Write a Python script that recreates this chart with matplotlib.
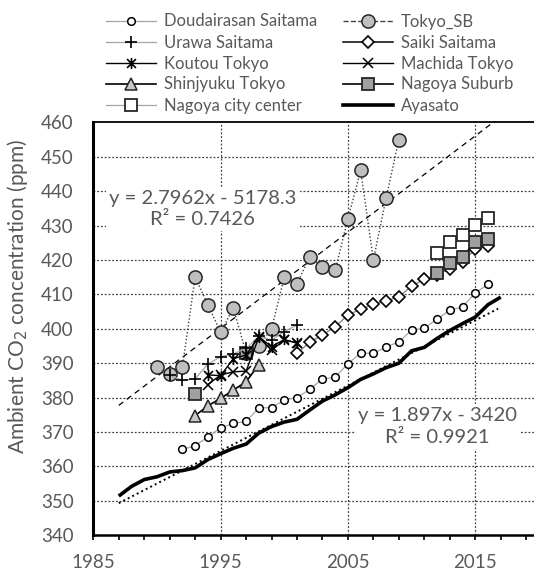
import numpy as np
import matplotlib
matplotlib.use("Agg")
import matplotlib.pyplot as plt
from matplotlib.path import Path
from matplotlib.lines import Line2D

plt.rcParams['font.family'] = ['Lato', 'DejaVu Sans']

# ---------------- data ----------------
doudai_years = list(range(1992, 2017))
doudai_vals = [365.0, 366.0, 368.6, 371.2, 372.5, 373.1, 377.0, 377.1, 379.3, 380.0,
               382.4, 385.4, 385.9, 389.9, 392.9, 392.9, 394.7, 396.2, 399.6, 400.2,
               402.8, 405.4, 406.4, 410.4, 412.9]

tokyo_sb_years = list(range(1990, 2010))
tokyo_sb_vals = [389, 387, 389, 415, 407, 399, 406, 393, 395, 400,
                 415, 413, 421, 418, 417, 432, 446, 420, 438, 455]

urawa_years = list(range(1991, 2002))
urawa_vals = [386.5, 385.0, 385.5, 389.7, 391.9, 392.7, 394.3, 397.8, 396.7, 399.2, 401.1]

saiki_years = list(range(2001, 2017))
saiki_vals = [392.9, 396.1, 398.2, 400.6, 404.0, 405.7, 407.1, 408.1, 409.3, 412.4,
              414.4, 415.5, 417.5, 419.5, 423.1, 424.0]

koutou_years = list(range(1994, 2002))
koutou_vals = [386.6, 386.4, 391.3, 392.4, 397.7, 394.8, 396.9, 395.8]

machida_years = list(range(1994, 2002))
machida_vals = [383.8, 386.6, 387.5, 387.7, 397.5, 393.8, 396.7, 396.0]

shinjyuku_years = list(range(1993, 1999))
shinjyuku_vals = [374.8, 377.6, 379.8, 382.2, 384.6, 389.6]

# early isolated points, then the connected 2012-2016 run
nagoya_sub_years = [1993, 1997, 2012, 2013, 2014, 2015, 2016]
nagoya_sub_vals = [381.2, 393.0, 416.3, 419.0, 420.9, 425.1, 426.1]

nagoya_city_years = [2012, 2013, 2014, 2015, 2016]
nagoya_city_vals = [422.1, 425.1, 427.2, 430.2, 432.1]

ayasato_years = list(range(1987, 2018))
ayasato_vals = [351.4, 354.2, 356.2, 357.0, 358.4, 358.8, 359.6, 362.0, 363.7, 365.3,
                366.5, 369.7, 371.6, 372.9, 373.7, 376.4, 379.0, 380.8, 382.9, 385.3,
                386.9, 388.7, 390.0, 393.6, 394.6, 397.2, 399.5, 401.5, 403.4, 407.0, 409.2]

# trend lines (from the chart's equations)
trend_sb = (2.7962, -5178.3, 0.7426)
trend_aya = (1.897, -3420.0, 0.9921)
trend_sb_range = (1987, 2017)
trend_aya_range = (1987, 2016.8)

x_ticks = [1985, 1995, 2005, 2015]
y_ticks = list(range(340, 461, 10))

# ---------------- style ----------------
TXT = '#595959'
asterisk = Path([(-1, -1), (1, 1), (-1, 1), (1, -1), (0, -1.25), (0, 1.25)],
                [Path.MOVETO, Path.LINETO, Path.MOVETO, Path.LINETO, Path.MOVETO, Path.LINETO])

fig = plt.figure(figsize=(5.34, 5.73), dpi=100)
ax = fig.add_axes([93.3 / 534, 37.7 / 573, (538.9 - 93.3) / 534, (535.3 - 122.3) / 573])
ax.set_xlim(1985, 2020)
ax.set_ylim(340, 460)

# grid
for yv in y_ticks[1:-1]:
    ax.axhline(yv, color='#404040', lw=0.9, ls=(0, (1.5, 1.5)), zorder=0)
for xv in x_ticks[1:]:
    ax.axvline(xv, color='#404040', lw=0.9, ls=(0, (1.5, 1.5)), zorder=0)

# trend lines
xs = np.array(trend_sb_range)
ax.plot(xs, trend_sb[0] * xs + trend_sb[1], color='black', lw=0.9, ls=(0, (4.5, 3.5)), zorder=1)
xa = np.array(trend_aya_range)
ax.plot(xa, trend_aya[0] * xa + trend_aya[1], color='black', lw=1.4, ls=(0, (1, 1.6)), zorder=1)

series = []
h = ax.plot(doudai_years, doudai_vals, color='#A6A6A6', lw=0.9, marker='o', ms=5.5,
            mfc='white', mec='black', mew=1.1, label='Doudairasan Saitama', zorder=3)[0]
series.append(h)
h_sb = ax.plot(tokyo_sb_years, tokyo_sb_vals, color='#404040', lw=1.0, ls=(0, (1, 1.5)),
               marker='o', ms=9.5, mfc='#BFBFBF', mec='#262626', mew=1.1, label='Tokyo_SB', zorder=4)[0]
h_ur = ax.plot(urawa_years, urawa_vals, color='#A6A6A6', lw=0.9, marker='+', ms=9,
               mec='black', mew=1.2, label='Urawa Saitama', zorder=5)[0]
h_sa = ax.plot(saiki_years, saiki_vals, color='#7F7F7F', lw=0.9, marker='D', ms=6.5,
               mfc='white', mec='black', mew=1.2, label='Saiki Saitama', zorder=3)[0]
h_ko = ax.plot(koutou_years, koutou_vals, color='black', lw=1.0, marker=asterisk, ms=8,
               mec='black', mew=1.2, label='Koutou Tokyo', zorder=5)[0]
h_ma = ax.plot(machida_years, machida_vals, color='black', lw=1.0, marker='x', ms=7,
               mec='black', mew=1.1, label='Machida Tokyo', zorder=5)[0]
h_sh = ax.plot(shinjyuku_years, shinjyuku_vals, color='black', lw=1.2, marker='^', ms=9,
               mfc='#C8C8C8', mec='#262626', mew=1.1, label='Shinjyuku Tokyo', zorder=4)[0]
h_ns = ax.plot(nagoya_sub_years[2:], nagoya_sub_vals[2:], color='black', lw=1.2, marker='s', ms=8.5,
               mfc='#A0A0A0', mec='#262626', mew=1.3, zorder=4)[0]
ax.plot(nagoya_sub_years[:2], nagoya_sub_vals[:2], ls='none', marker='s', ms=8.5,
        mfc='#A0A0A0', mec='#262626', mew=1.3, zorder=4)
h_nc = ax.plot(nagoya_city_years, nagoya_city_vals, color='#A6A6A6', lw=0.9, marker='s', ms=8.5,
               mfc='white', mec='#262626', mew=1.3, zorder=4)[0]
h_ay = ax.plot(ayasato_years, ayasato_vals, color='black', lw=2.6, label='Ayasato',
               solid_capstyle='butt', zorder=2)[0]

# trend labels
eq_kw = dict(fontsize=14.6, color=TXT, ha='center', va='center', zorder=6,
             bbox=dict(boxstyle='square,pad=0.15', fc='white', ec='none'))
ax.text(1993.6, 434.8, 'y = 2.7962x - 5178.3\nR² = 0.7426', linespacing=1.3, **eq_kw)
ax.text(2012.0, 371.6, 'y = 1.897x - 3420\nR² = 0.9921', linespacing=1.3, **eq_kw)

# axes styling
ax.set_xticks(x_ticks)
ax.set_xticks(list(range(1985, 2020, 2)), minor=True)
ax.set_yticks(y_ticks)
ax.tick_params(axis='x', which='both', direction='out', length=3.6, width=1.2, color='black',
               labelsize=13.5, labelcolor=TXT, pad=10)
ax.tick_params(axis='y', which='both', length=0, labelsize=13.5, labelcolor=TXT, pad=14)
ax.spines['right'].set_visible(False)
ax.spines['left'].set_linewidth(2.2)
ax.spines['bottom'].set_linewidth(1.8)
ax.spines['top'].set_linewidth(1.3)
ax.set_ylabel('Ambient CO$_2$ concentration (ppm)', fontsize=15.0, color=TXT)
ax.yaxis.set_label_coords(-0.142, 0.578)

# legend
def proxy(src, lw=None):
    return Line2D([], [], color=src.get_color(), lw=src.get_linewidth() if lw is None else lw,
                  ls=src.get_linestyle(), marker=src.get_marker(), ms=src.get_markersize(),
                  mfc=src.get_markerfacecolor(), mec=src.get_markeredgecolor(),
                  mew=src.get_markeredgewidth())

handles = [proxy(series[0]), proxy(h_ur), proxy(h_ko), proxy(h_sh), proxy(h_nc),
           proxy(h_sb), proxy(h_sa, lw=1.1), proxy(h_ma), proxy(h_ns), proxy(h_ay)]
handles[6].set_color('black')
labels = ['Doudairasan Saitama', 'Urawa Saitama', 'Koutou Tokyo', 'Shinjyuku Tokyo',
          'Nagoya city center', 'Tokyo_SB', 'Saiki Saitama', 'Machida Tokyo',
          'Nagoya Suburb', 'Ayasato']
leg = fig.legend(handles, labels, ncol=2, loc='upper left', bbox_to_anchor=(106 / 534, 1 - 13.5 / 573),
                 frameon=False, fontsize=12, labelcolor=TXT, handlelength=3.0,
                 handletextpad=0.5, columnspacing=1.5, labelspacing=0.3, borderpad=0,
                 borderaxespad=0)

fig.savefig('out.png', dpi=100)
